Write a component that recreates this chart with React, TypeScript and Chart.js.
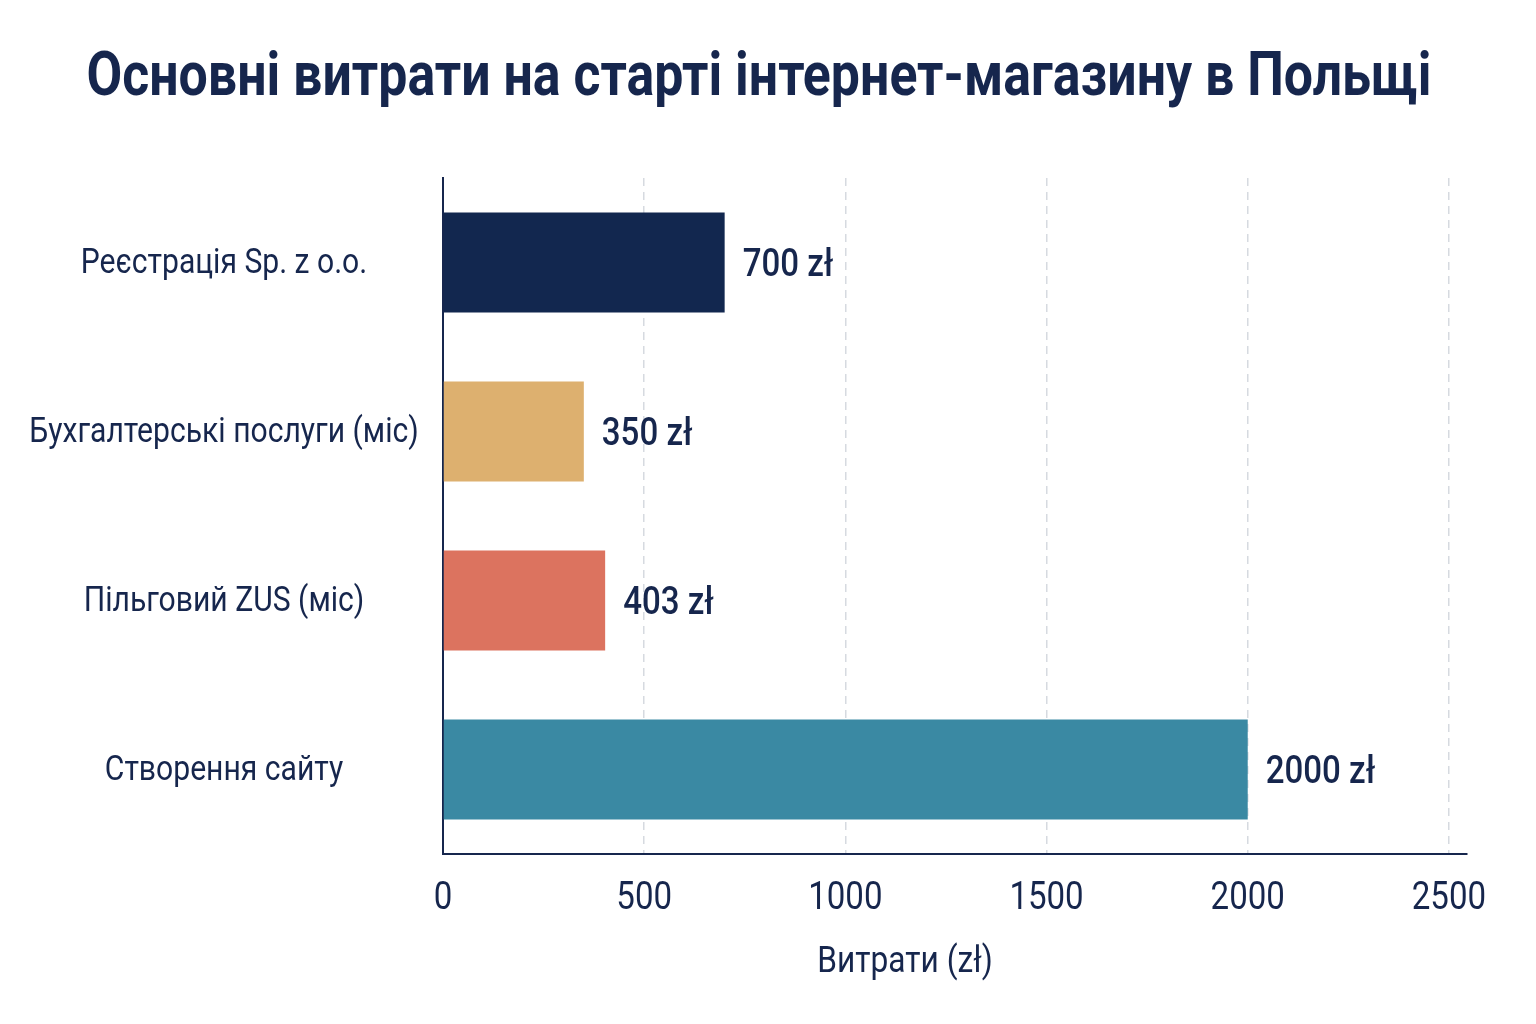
import { useEffect, useRef } from 'react';
import Chart from 'chart.js/auto';

const categories = [
  'Реєстрація Sp. z o.o.',
  'Бухгалтерські послуги (міс)',
  'Пільговий ZUS (міс)',
  'Створення сайту',
];
const costs = [700, 350, 403, 2000];
const barColors = ['#12274f', '#ddb06f', '#dc735f', '#3a89a3'];
const xTicks = [0, 500, 1000, 1500, 2000, 2500];

const titleText = 'Основні витрати на старті інтернет-магазину в Польщі';
const xTitle = 'Витрати (zł)';
const FONT = 'Roboto, "Noto Sans", sans-serif';
const NAVY = '#16264d';

// Roboto squeezed sideways to look like the condensed face in the picture
function drawText(
  ctx: CanvasRenderingContext2D,
  text: string,
  x: number,
  y: number,
  font: string,
  align: CanvasTextAlign,
  squeeze: number,
) {
  ctx.save();
  ctx.font = font;
  ctx.fillStyle = NAVY;
  ctx.textAlign = align;
  ctx.textBaseline = 'middle';
  ctx.translate(x, y);
  ctx.scale(squeeze, 1);
  ctx.fillText(text, 0, 0);
  ctx.restore();
}

const extras = {
  id: 'extras',
  afterDatasetsDraw(chart: Chart) {
    const { ctx } = chart;
    chart.getDatasetMeta(0).data.forEach((bar: any, i: number) => {
      drawText(ctx, `${costs[i]} zł`, bar.x + 18, bar.y + 4, `500 38px ${FONT}`, 'left', 0.87);
    });
  },
  afterDraw(chart: Chart) {
    const { ctx, chartArea } = chart;
    const x = chart.scales.x;
    const y = chart.scales.y;
    drawText(ctx, titleText, 759, 80, `bold 61px ${FONT}`, 'center', 0.85);
    x.ticks.forEach((t: any) => {
      drawText(ctx, String(t.value), x.getPixelForValue(t.value), chartArea.bottom + 45, `38px ${FONT}`, 'center', 0.87);
    });
    categories.forEach((c, i) => {
      drawText(ctx, c, 224, y.getPixelForValue(i) + 2, `35px ${FONT}`, 'center', 0.86);
    });
    drawText(ctx, xTitle, 905, chartArea.bottom + 109, `36px ${FONT}`, 'center', 0.88);
  },
};

export default function App() {
  const ref = useRef<HTMLCanvasElement | null>(null);

  useEffect(() => {
    document.body.style.margin = '0';
    if (!ref.current) return;
    const chart = new Chart(ref.current, {
      type: 'bar',
      data: {
        labels: categories,
        datasets: [{
          data: costs,
          backgroundColor: barColors,
          borderWidth: 0,
          barPercentage: 0.84,
          categoryPercentage: 0.705,
        }],
      },
      options: {
        indexAxis: 'y',
        responsive: false,
        animation: false,
        layout: { padding: { top: 178, right: 69, left: 0, bottom: 0 } },
        plugins: {
          legend: { display: false },
          tooltip: { enabled: false },
        },
        scales: {
          x: {
            min: 0,
            max: 2545,
            afterBuildTicks: (scale: any) => {
              scale.ticks = xTicks.map((v) => ({ value: v }));
            },
            afterFit: (scale: any) => { scale.height = 170; },
            border: { display: true, color: NAVY, width: 2, dash: [8, 6] },
            grid: {
              drawTicks: false,
              color: (c: any) => (c.tick && c.tick.value === 0 ? 'rgba(0,0,0,0)' : '#d6dae0'),
              lineWidth: 1.5,
            },
            ticks: { display: false },
          },
          y: {
            afterFit: (scale: any) => { scale.width = 443; },
            border: { display: true, color: NAVY, width: 2 },
            grid: { display: false, drawTicks: false },
            ticks: { display: false },
          },
        },
      },
      plugins: [extras],
    });
    return () => chart.destroy();
  }, []);

  return (
    <div style={{ width: 1536, height: 1024, background: '#ffffff' }}>
      <canvas ref={ref} width={1536} height={1024} />
    </div>
  );
}
